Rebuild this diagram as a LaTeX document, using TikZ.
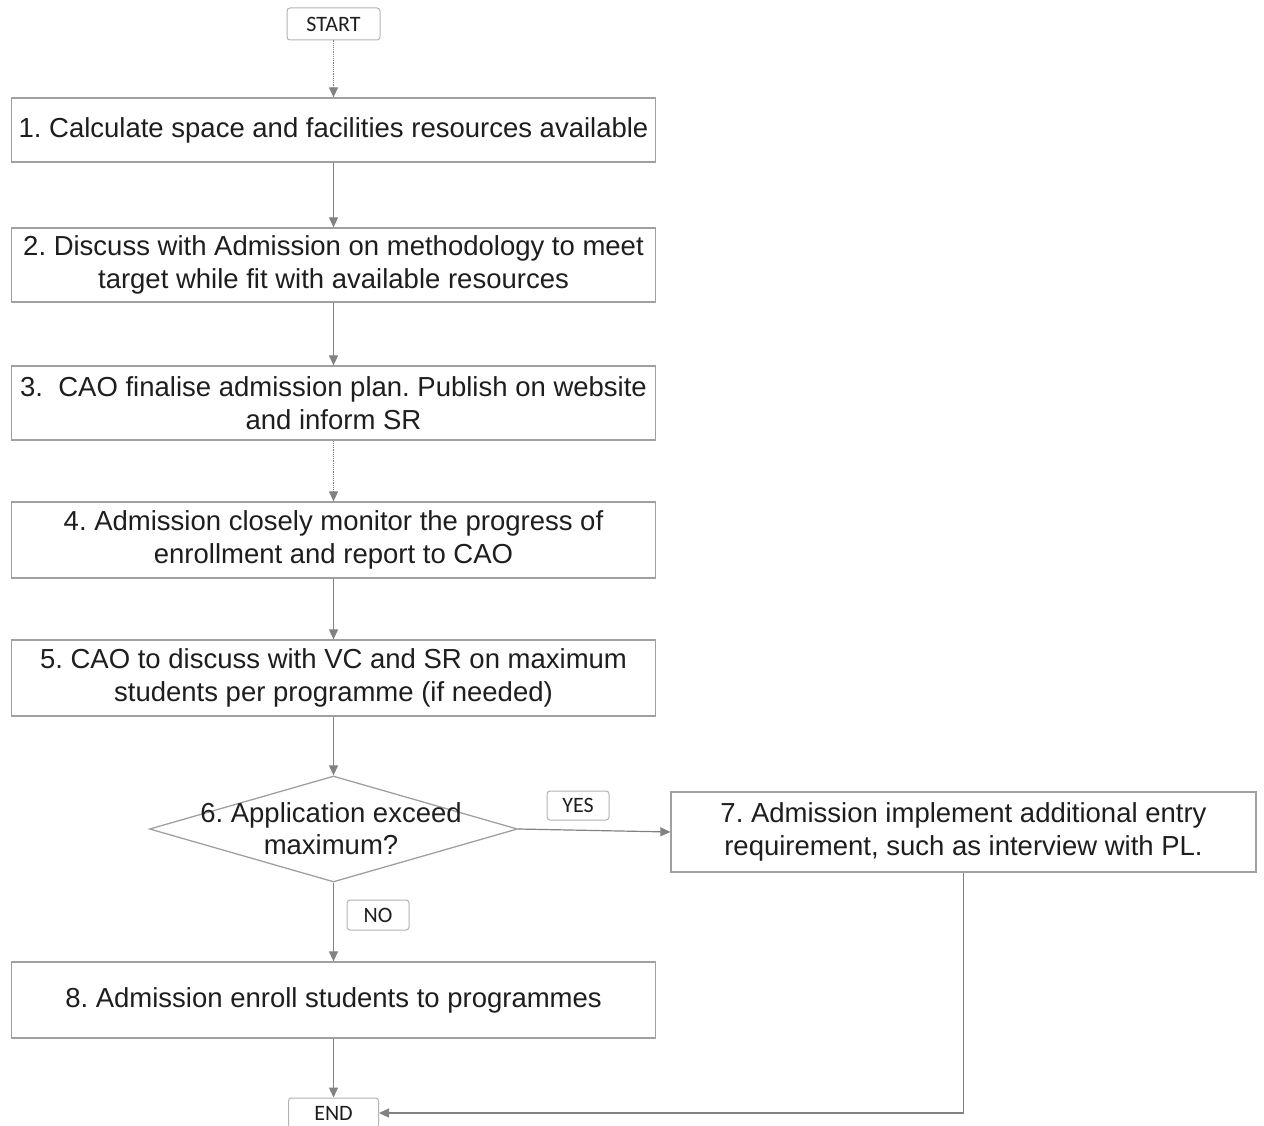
\documentclass[tikz,border=0pt]{standalone}
\usepackage{fontspec}
\setmainfont{Liberation Sans}
\newfontfamily\carl{Carlito}
\usetikzlibrary{arrows.meta,shapes.geometric}
\definecolor{boxgray}{RGB}{160,160,160}
\definecolor{linegray}{RGB}{130,130,130}
\definecolor{ink}{RGB}{30,30,30}
\frenchspacing
\begin{document}
\begin{tikzpicture}[x=1pt,y=-1pt,
  box/.style={draw=boxgray, line width=1.3pt, inner sep=0pt, align=center,
    text=ink, minimum width=644pt, font=\fontsize{27.5}{33}\selectfont},
  term/.style={draw=boxgray!80, line width=1pt, rounded corners=3pt, inner sep=0pt,
    text=ink, font=\carl\fontsize{22}{24}\selectfont},
  conn/.style={draw=linegray, line width=1.2pt, -{Triangle[width=9pt,length=10pt]}}]
\useasboundingbox[fill=white] (0,0) rectangle (1264,1126);

\node[term, minimum width=93pt, minimum height=32pt] (start) at (333.5,24) {START};
\node[box, minimum height=64pt] (b1) at (333.5,130) {1. Calculate space and facilities resources available};
\node[box, minimum height=74pt] (b2) at (333.5,265) {2. Discuss with Admission on methodology to meet\\target while fit with available resources};
\node[box, minimum height=74pt] (b3) at (333.5,403) {3.\ \ CAO finalise admission plan. Publish on website\\and inform SR};
\node[box, minimum height=76pt] (b4) at (333.5,540) {4. Admission closely monitor the progress of\\enrollment and report to CAO};
\node[box, minimum height=76pt] (b5) at (333.5,678) {5. CAO to discuss with VC and SR on maximum\\students per programme (if needed)};
\node[draw=boxgray, line width=1.3pt, diamond, minimum width=368pt, minimum height=106pt, inner sep=0pt] (d6) at (333.5,829) {};
\node[align=center, text=ink, font=\fontsize{27.5}{32}\selectfont, inner sep=0pt] (d6t) at (331,829) {6. Application exceed\\maximum?};
\node[box, minimum width=585pt, minimum height=80pt] (b7) at (963.5,832) {7. Admission implement additional entry\\requirement, such as interview with PL.};
\node[box, minimum height=76pt] (b8) at (333.5,1000) {8. Admission enroll students to programmes};
\node[term, minimum width=90pt, minimum height=30pt] (end) at (333.5,1113) {END};
\node[term, minimum width=62pt, minimum height=29pt] (yes) at (578,805.5) {YES};
\node[term, minimum width=62pt, minimum height=30pt] (no) at (378,915) {NO};

\draw[conn, densely dotted] (start) -- (b1);
\draw[conn] (b1) -- (b2);
\draw[conn] (b2) -- (b3);
\draw[conn, densely dotted] (b3) -- (b4);
\draw[conn] (b4) -- (b5);
\draw[conn] (b5) -- (d6.north);
\draw[conn] (d6.east) -- (b7.west);
\draw[conn] (d6.south) -- (b8.north);
\draw[conn] (b8) -- (end);
\draw[conn] (b7.south) |- (end.east);
\end{tikzpicture}
\end{document}
